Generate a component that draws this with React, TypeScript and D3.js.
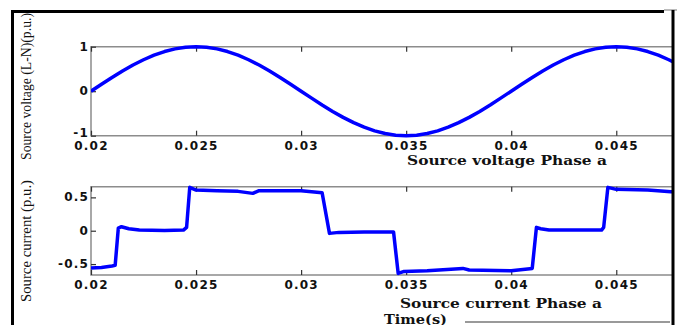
import { useEffect, useRef } from "react";
import * as d3 from "d3";

// time axis (s)
const xTicks = [0.02, 0.025, 0.03, 0.035, 0.04, 0.045];
const xTickLabels = ["0.02", "0.025", "0.03", "0.035", "0.04", "0.045"];

// source voltage, phase a (p.u.)
const voltageTime = [
  0.02, 0.0205, 0.021, 0.0215, 0.022, 0.0225, 0.023, 0.0235, 0.024, 0.0245,
  0.025, 0.0255, 0.026, 0.0265, 0.027, 0.0275, 0.028, 0.0285, 0.029, 0.0295,
  0.03, 0.0305, 0.031, 0.0315, 0.032, 0.0325, 0.033, 0.0335, 0.034, 0.0345,
  0.035, 0.0355, 0.036, 0.0365, 0.037, 0.0375, 0.038, 0.0385, 0.039, 0.0395,
  0.04, 0.0405, 0.041, 0.0415, 0.042, 0.0425, 0.043, 0.0435, 0.044, 0.0445,
  0.045, 0.0455, 0.046, 0.0465, 0.047, 0.0475, 0.048,
];
const voltageValues = [
  0, 0.156, 0.309, 0.454, 0.588, 0.707, 0.809, 0.891, 0.951, 0.988,
  1, 0.988, 0.951, 0.891, 0.809, 0.707, 0.588, 0.454, 0.309, 0.156,
  0, -0.156, -0.309, -0.454, -0.588, -0.707, -0.809, -0.891, -0.951, -0.988,
  -1, -0.988, -0.951, -0.891, -0.809, -0.707, -0.588, -0.454, -0.309, -0.156,
  0, 0.156, 0.309, 0.454, 0.588, 0.707, 0.809, 0.891, 0.951, 0.988,
  1, 0.988, 0.951, 0.891, 0.809, 0.707, 0.588,
];
const voltageYTicks = [1, 0, -1];

// source current, phase a (p.u.)
const currentTime = [
  0.02, 0.0205, 0.021, 0.02115, 0.0213, 0.02145, 0.0218, 0.0223, 0.0235, 0.0244,
  0.02455, 0.0247, 0.025, 0.026, 0.027, 0.0277, 0.028, 0.029, 0.03, 0.031,
  0.03135, 0.0318, 0.033, 0.0344, 0.03462, 0.0349, 0.036, 0.0377, 0.038, 0.04,
  0.041, 0.0412, 0.0414, 0.0418, 0.0443, 0.0444, 0.0446, 0.045, 0.0465, 0.0476,
  0.0478,
];
const currentValues = [
  -0.56, -0.55, -0.53, -0.52, 0.04, 0.06, 0.03, 0.01, 0.005, 0.01,
  0.05, 0.65, 0.61, 0.6, 0.59, 0.56, 0.6, 0.6, 0.6, 0.57,
  -0.04, -0.025, -0.02, -0.02, -0.64, -0.61, -0.6, -0.565, -0.59, -0.6,
  -0.565, 0.05, 0.03, 0.01, 0.01, 0.05, 0.65, 0.62, 0.61, 0.585,
  0.58,
];
const currentYTicks = [0.5, 0, -0.5];
const currentYTickLabels = ["0.5", "0", "-0.5"];

const W = 677;
const H = 325;
const tickFont = "'DejaVu Sans', Verdana, sans-serif";
const titleFont = "'DejaVu Serif', Georgia, serif";
const serif = "'Liberation Serif', 'Times New Roman', serif";

const App = () => {
  const svgRef = useRef<SVGSVGElement | null>(null);

  useEffect(() => {
    const svg = d3.select(svgRef.current).attr("width", W).attr("height", H);
    svg.selectAll("*").remove();

    const x = d3.scaleLinear().domain([0.02, 0.0477]).range([91, 673]);

    const panel = (
      id: string,
      top: number,
      bottom: number,
      yDomain: [number, number],
      yTicks: number[],
      yLabels: string[],
      times: number[],
      values: number[],
      yLabel: string,
      yLabelCenter: number,
      yLabelLen: number,
    ) => {
      const y = d3.scaleLinear().domain(yDomain).range([bottom, top]);
      const g = svg.append("g");

      g.append("clipPath")
        .attr("id", id)
        .append("rect")
        .attr("x", 91)
        .attr("y", top - 10)
        .attr("width", 582)
        .attr("height", bottom - top + 20);

      // frame (top, bottom, left)
      g.append("path")
        .attr("d", `M673,${top}H91V${bottom}H673`)
        .attr("fill", "none")
        .attr("stroke", "#8c8c8c")
        .attr("stroke-width", 1.5);

      // ticks point inward
      const xAxisB = d3.axisBottom(x).tickValues(xTicks).tickSize(-5).tickFormat(() => "");
      const xAxisT = d3.axisTop(x).tickValues(xTicks).tickSize(-5).tickFormat(() => "");
      g.append("g").attr("transform", `translate(0,${bottom})`).call(xAxisB);
      g.append("g").attr("transform", `translate(0,${top})`).call(xAxisT);
      const yAxis = d3.axisLeft(y).tickValues(yTicks).tickSize(-5).tickFormat(() => "");
      g.append("g").attr("transform", `translate(91,0)`).call(yAxis);
      g.selectAll(".domain").remove();
      g.selectAll(".tick line").attr("stroke", "#333").attr("stroke-width", 1.2);

      g.selectAll(".xl")
        .data(xTicks)
        .join("text")
        .attr("x", (d) => x(d) + 0.5)
        .attr("y", bottom + 10)
        .attr("text-anchor", "middle")
        .attr("dominant-baseline", "central")
        .attr("font-family", tickFont)
        .attr("font-weight", "bold")
        .attr("font-size", 12)
        .attr("letter-spacing", 1.2)
        .attr("fill", "#111")
        .text((d, i) => xTickLabels[i]);

      g.selectAll(".yl")
        .data(yTicks)
        .join("text")
        .attr("x", 89)
        .attr("y", (d, i) => y(d) - (i === yTicks.length - 1 && id === "clipV" ? 3 : 0))
        .attr("text-anchor", "end")
        .attr("dominant-baseline", "central")
        .attr("font-family", tickFont)
        .attr("font-weight", "bold")
        .attr("font-size", 12)
        .attr("letter-spacing", 1.2)
        .attr("fill", "#111")
        .text((d, i) => yLabels[i]);

      g.append("text")
        .attr("transform", `translate(26,${yLabelCenter}) rotate(-90)`)
        .attr("text-anchor", "middle")
        .attr("dominant-baseline", "central")
        .attr("font-family", serif)
        .attr("font-size", 15)
        .attr("textLength", yLabelLen)
        .attr("lengthAdjust", "spacingAndGlyphs")
        .attr("fill", "#111")
        .text(yLabel);

      const line = d3
        .line<number>()
        .x((d, i) => x(times[i]))
        .y((d) => y(d));

      g.append("path")
        .datum(values)
        .attr("d", line)
        .attr("clip-path", `url(#${id})`)
        .attr("fill", "none")
        .attr("stroke", "#0000ff")
        .attr("stroke-width", 3.5)
        .attr("stroke-linejoin", "round");
    };

    panel("clipV", 46.7, 135.7, [-1, 1], voltageYTicks, voltageYTicks.map(String),
      voltageTime, voltageValues, "Source voltage (L-N)(p.u.)", 86.5, 147);
    panel("clipC", 186.7, 275, [-0.664, 0.66], currentYTicks, currentYTickLabels,
      currentTime, currentValues, "Source current (p.u.)", 241, 122);

    const title = (txt: string, cx: number, cy: number, len: number) =>
      svg
        .append("text")
        .attr("x", cx)
        .attr("y", cy)
        .attr("text-anchor", "middle")
        .attr("dominant-baseline", "central")
        .attr("font-family", titleFont)
        .attr("font-weight", "bold")
        .attr("font-size", 12.5)
        .attr("textLength", len)
        .attr("lengthAdjust", "spacingAndGlyphs")
        .attr("fill", "#111")
        .text(txt);

    title("Source voltage Phase a", 507, 160, 200);
    title("Source current Phase a", 501, 303, 202);
    title("Time(s)", 415.5, 319, 63);

    svg.append("line")
      .attr("x1", 465).attr("x2", 670).attr("y1", 322).attr("y2", 322)
      .attr("stroke", "#999").attr("stroke-width", 2);

    // outer border
    svg.append("path")
      .attr("d", "M12.5,325V11.5H664")
      .attr("fill", "none").attr("stroke", "#000").attr("stroke-width", 3);
    svg.append("line")
      .attr("x1", 664).attr("x2", 677).attr("y1", 10).attr("y2", 10)
      .attr("stroke", "#777").attr("stroke-width", 1);
    svg.append("line")
      .attr("x1", 673).attr("x2", 673).attr("y1", 10).attr("y2", 325)
      .attr("stroke", "#000").attr("stroke-width", 3);
  }, []);

  return (
    <svg
      ref={svgRef}
      style={{ position: "absolute", left: 0, top: 0, display: "block", background: "#fff" }}
    ></svg>
  );
};

export default App;
